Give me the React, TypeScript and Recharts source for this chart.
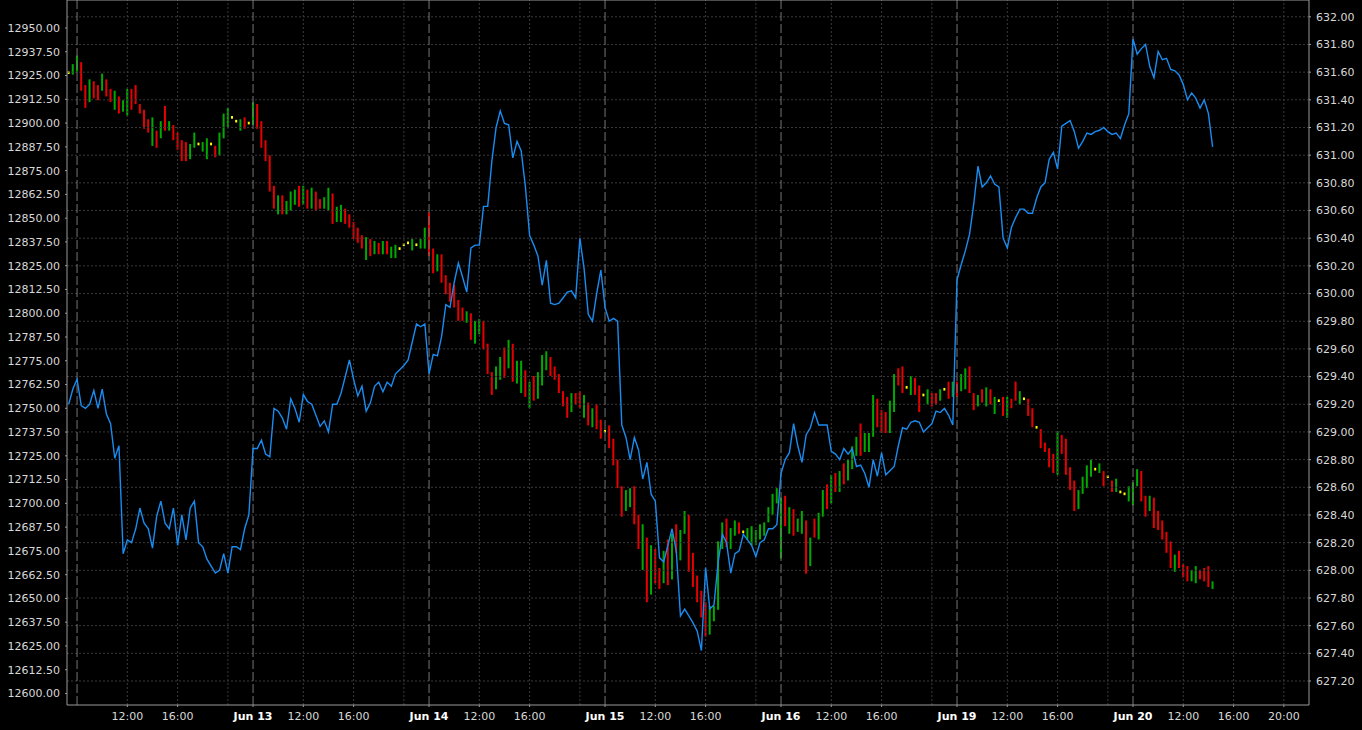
import { ComposedChart, Bar, Line, XAxis, YAxis, ReferenceLine, Cell } from "recharts";

// trading sessions shown on the time axis, 08:00 - 22:00 each
const days = ["Jun 12", "Jun 13", "Jun 14", "Jun 15", "Jun 16", "Jun 19", "Jun 20"];
// first 20-minute slot of each session, counted from 08:00
const firstSlot = [-2, 0, 0, 0, 0, 0, 0];
const SESSION_HOURS = 14;

type Candle = [number, number, number, number]; // open, high, low, close

const jun12Bars: Candle[] = [
  [12926.5, 12927.2, 12925.8, 12926.5], [12927, 12931, 12925.5, 12929], [12928, 12935.5, 12927, 12932],
  [12931, 12932, 12917, 12918], [12917, 12920, 12908, 12912], [12913, 12923, 12911, 12921],
  [12921, 12922, 12913, 12915], [12916, 12920, 12912, 12913], [12917, 12926, 12917, 12925],
  [12923, 12923, 12914, 12915], [12915, 12918, 12911, 12912], [12909, 12917, 12907, 12915],
  [12913, 12914, 12905, 12906], [12906, 12912, 12906, 12911], [12906, 12918, 12904, 12916],
  [12916, 12918, 12907, 12909], [12913, 12920, 12910, 12911], [12909, 12910, 12905, 12906],
  [12906, 12907, 12897, 12900], [12901, 12902, 12895, 12896], [12891, 12903, 12888, 12899],
  [12895, 12896, 12887, 12889], [12893, 12901, 12892, 12900], [12906, 12909, 12896, 12898],
  [12897, 12901, 12896, 12899], [12899, 12899, 12891, 12894], [12893, 12895, 12886, 12889],
  [12890, 12891, 12880, 12883], [12889, 12890, 12880, 12882], [12882, 12889, 12881, 12888],
  [12888, 12895, 12887, 12893], [12889, 12889.7, 12888.3, 12889], [12887, 12890, 12885, 12889],
  [12882, 12892, 12881, 12891], [12889, 12889.7, 12888.3, 12889], [12887, 12888, 12882, 12883],
  [12884, 12895, 12883, 12893], [12893, 12905, 12892, 12903], [12901, 12908, 12898, 12905],
  [12903, 12903.7, 12902.3, 12903], [12901, 12901.7, 12900.3, 12901], [12899, 12902, 12896, 12901],
  [12901, 12903, 12897, 12899], [12900, 12900.7, 12899.3, 12900],
];

const jun13Bars: Candle[] = [
  [12900, 12911, 12899, 12909], [12909, 12910, 12897, 12900], [12899, 12901, 12887, 12889],
  [12889, 12891, 12880, 12883], [12882, 12883, 12864, 12866], [12866, 12867, 12855, 12857],
  [12853, 12862, 12852, 12860], [12860, 12862, 12852, 12854], [12853, 12859, 12852, 12857],
  [12856, 12864, 12854, 12862], [12859, 12865, 12857, 12863], [12863, 12867, 12856, 12858],
  [12858, 12867, 12857, 12864], [12864, 12865, 12855, 12857], [12856, 12866, 12855, 12864],
  [12863, 12864, 12854, 12857], [12858, 12860, 12855, 12856], [12856, 12861, 12855, 12860],
  [12858, 12866, 12854, 12864], [12862, 12863, 12847, 12849], [12850, 12856, 12848, 12853],
  [12849, 12857, 12848, 12855], [12853, 12855, 12847, 12849], [12850, 12852, 12845, 12846],
  [12847, 12848, 12839, 12841], [12842, 12845, 12837, 12839], [12838, 12841, 12834, 12836],
  [12831, 12840, 12828, 12838], [12837, 12839, 12830, 12833], [12833, 12838, 12831, 12836],
  [12836, 12837, 12831, 12833], [12832, 12838, 12831, 12836], [12837, 12838, 12831, 12832],
  [12830, 12835, 12829, 12834], [12830, 12836, 12829, 12835], [12834, 12834.7, 12833.3, 12834],
  [12836, 12836.7, 12835.3, 12836], [12837, 12837.7, 12836.3, 12837], [12834, 12839, 12833, 12837],
  [12836, 12836.7, 12835.3, 12836], [12835, 12839, 12834, 12838], [12835, 12845, 12834, 12843],
];

const jun14Bars: Candle[] = [
  [12850, 12853, 12830, 12832], [12832, 12834, 12821, 12823], [12824, 12831, 12822, 12830],
  [12829, 12831, 12816, 12822], [12818, 12820, 12810, 12812], [12813, 12816, 12806, 12808],
  [12810, 12815, 12803, 12805], [12806, 12807, 12796, 12798], [12800, 12803, 12796, 12798],
  [12797, 12801, 12795, 12800], [12799, 12800, 12786, 12790], [12788, 12796, 12784, 12793],
  [12790, 12797, 12789, 12795], [12795, 12796, 12781, 12783], [12783, 12784, 12768, 12771],
  [12768, 12769, 12757, 12760], [12762, 12772, 12760, 12770], [12767, 12777, 12765, 12775],
  [12778, 12782, 12766, 12770], [12772, 12786, 12771, 12780], [12783, 12784, 12764, 12767],
  [12766, 12775, 12763, 12772], [12762, 12775, 12758, 12772], [12768, 12770, 12756, 12760],
  [12753, 12764, 12750, 12762], [12762, 12767, 12754, 12757], [12757, 12769, 12755, 12767],
  [12765, 12778, 12762, 12773], [12772, 12780, 12770, 12775], [12776, 12777, 12767, 12770],
  [12769, 12772, 12765, 12767], [12766, 12768, 12758, 12759], [12757, 12759, 12751, 12753],
  [12755, 12756, 12745, 12746], [12749, 12758, 12748, 12756], [12756, 12758, 12752, 12753],
  [12757, 12759, 12750, 12752], [12746, 12757, 12745, 12755], [12752, 12753, 12741, 12743],
  [12741, 12750, 12740, 12748], [12748, 12752, 12739, 12742], [12743, 12744, 12734, 12735],
];

const jun15Bars: Candle[] = [
  [12738, 12738.7, 12737.3, 12738], [12739, 12741, 12729, 12730], [12732, 12734, 12720, 12722],
  [12722, 12723, 12708, 12710], [12708, 12709, 12693, 12697], [12698, 12707, 12696, 12705],
  [12700, 12708, 12698, 12707], [12708, 12709, 12689, 12692], [12692, 12694, 12676, 12679],
  [12668, 12689, 12665, 12686], [12680, 12682, 12648, 12652], [12655, 12678, 12652, 12675],
  [12674, 12676, 12658, 12662], [12662, 12666, 12655, 12658], [12660, 12675, 12658, 12672],
  [12675, 12681, 12657, 12660], [12662, 12684, 12660, 12681], [12683, 12689, 12674, 12676],
  [12672, 12686, 12670, 12685], [12686, 12696, 12684, 12693], [12693, 12694, 12664, 12667],
  [12672, 12674, 12656, 12658], [12660, 12662, 12648, 12650], [12650, 12654, 12640, 12645],
  [12645, 12648, 12630, 12633], [12633, 12646, 12631, 12643], [12640, 12646, 12638, 12644],
  [12646, 12680, 12644, 12676], [12678, 12690, 12676, 12684], [12687, 12692, 12677, 12680],
  [12679, 12687, 12676, 12685], [12684, 12691, 12683, 12688], [12689, 12690, 12684, 12686],
  [12685, 12685.7, 12684.3, 12685], [12683, 12687, 12681, 12686], [12680, 12688, 12678, 12686],
  [12681, 12686, 12678, 12683], [12683, 12689, 12681, 12687], [12685, 12690, 12683, 12688],
  [12691, 12698, 12690, 12696], [12696, 12705, 12694, 12702], [12702, 12708, 12700, 12705],
];

const jun16Bars: Candle[] = [
  [12673, 12703, 12671, 12697], [12702, 12704, 12688, 12690], [12690, 12698, 12684, 12695],
  [12695, 12697, 12683, 12686], [12686, 12692, 12685, 12689], [12686, 12696, 12684, 12694],
  [12690, 12691, 12663, 12667], [12668, 12682, 12667, 12680], [12690, 12692, 12682, 12683],
  [12683, 12695, 12681, 12692], [12694, 12707, 12693, 12705], [12706, 12710, 12697, 12700],
  [12702, 12715, 12700, 12712], [12712, 12716, 12706, 12708], [12708, 12717, 12706, 12714],
  [12716, 12721, 12710, 12712], [12714, 12723, 12712, 12720], [12720, 12730, 12718, 12727],
  [12727, 12735, 12725, 12732], [12738, 12742, 12725, 12728], [12729, 12737, 12727, 12733],
  [12729, 12737, 12727, 12735], [12738, 12757, 12735, 12753], [12752, 12755, 12740, 12743],
  [12744, 12749, 12737, 12740], [12745, 12748, 12737, 12739], [12739, 12754, 12737, 12750],
  [12750, 12768, 12748, 12765], [12768, 12771, 12762, 12765], [12768, 12772, 12758, 12760],
  [12761, 12761.7, 12760.3, 12761], [12759, 12767, 12757, 12764], [12765, 12766, 12757, 12760],
  [12760, 12762, 12748, 12753], [12757, 12757.7, 12756.3, 12757], [12755, 12760, 12752, 12757],
  [12757, 12758, 12751, 12753], [12756, 12758, 12752, 12754], [12755, 12760, 12754, 12758],
  [12760, 12760.7, 12759.3, 12760], [12762, 12764, 12755, 12757], [12758, 12764, 12756, 12761],
];

const jun19Bars: Candle[] = [
  [12762, 12764, 12756, 12758], [12760, 12768, 12759, 12765], [12762, 12771, 12760, 12770],
  [12770, 12772, 12758, 12760], [12754, 12758, 12749, 12752], [12752, 12757, 12751, 12755],
  [12758, 12760, 12753, 12755], [12753, 12761, 12751, 12758], [12758, 12760, 12752, 12754],
  [12751, 12756, 12747, 12754], [12754, 12754.7, 12753.3, 12754], [12754, 12756, 12746, 12750],
  [12748, 12756, 12745, 12753], [12753, 12755, 12750, 12751], [12762, 12764, 12754, 12756],
  [12754, 12759, 12752, 12758], [12755, 12755.7, 12754.3, 12755], [12754, 12755, 12746, 12750],
  [12748, 12750, 12740, 12743], [12740, 12740.7, 12739.3, 12740], [12738, 12739, 12729, 12731],
  [12731, 12732, 12727, 12729], [12728, 12729, 12719, 12722], [12724, 12726, 12716, 12718],
  [12716, 12738, 12715, 12733], [12732, 12736, 12726, 12729], [12732, 12734, 12715, 12718],
  [12718, 12719, 12707, 12709], [12710, 12712, 12696, 12699], [12700, 12707, 12697, 12705],
  [12707, 12714, 12705, 12712], [12710, 12720, 12708, 12718], [12716, 12723, 12714, 12720],
  [12718, 12718.7, 12717.3, 12718], [12718, 12721, 12716, 12720], [12716, 12717, 12709, 12712],
  [12714, 12714.7, 12713.3, 12714], [12710, 12712, 12706, 12709], [12708, 12713, 12706, 12711],
  [12706, 12706.7, 12705.3, 12706], [12705, 12705.7, 12704.3, 12705], [12703, 12709, 12701, 12706],
];

const jun20Bars: Candle[] = [
  [12700, 12711, 12699, 12709], [12710, 12718, 12709, 12715], [12716, 12717, 12701, 12704],
  [12703, 12704, 12693, 12696], [12697, 12704, 12696, 12702], [12701, 12703, 12687, 12690],
  [12692, 12696, 12686, 12688], [12690, 12691, 12681, 12683], [12684, 12685, 12674, 12677],
  [12678, 12680, 12666, 12670], [12668, 12673, 12664, 12671], [12672, 12675, 12666, 12668],
  [12666, 12668, 12661, 12664], [12665, 12667, 12659, 12660], [12661, 12665, 12659, 12663],
  [12659, 12667, 12658, 12664], [12663, 12665, 12660, 12662], [12664, 12666, 12659, 12661],
  [12665, 12667, 12656, 12658], [12656, 12659, 12655, 12658],
];

// second instrument, right axis, same 20-minute slots
const jun12Line = [
  629.2, 629.31, 629.38, 629.19, 629.17, 629.2, 629.3, 629.17, 629.31, 629.13, 629.06, 628.81, 628.9,
  628.12, 628.22, 628.2, 628.3, 628.45, 628.34, 628.3, 628.16, 628.39, 628.5, 628.34, 628.3, 628.45,
  628.18, 628.4, 628.22, 628.45, 628.5, 628.2, 628.17, 628.08, 628.03, 627.98, 628.0, 628.12, 627.98,
  628.17, 628.17, 628.15, 628.3, 628.4,
];
const jun13Line = [
  628.88, 628.88, 628.94, 628.84, 628.82, 629.17, 629.15, 629.1, 629.02, 629.24, 629.17, 629.07, 629.27,
  629.22, 629.2, 629.12, 629.04, 629.08, 629.0, 629.2, 629.2, 629.28, 629.4, 629.52, 629.38, 629.26,
  629.33, 629.15, 629.21, 629.33, 629.36, 629.29, 629.36, 629.33, 629.42, 629.45, 629.48, 629.52,
  629.65, 629.78, 629.76, 629.78,
];
const jun14Line = [
  629.42, 629.56, 629.55, 629.69, 629.92, 629.9, 630.08, 630.22, 630.12, 630.01, 630.33, 630.35, 630.35,
  630.63, 630.63, 630.96, 631.2, 631.32, 631.23, 631.22, 630.98, 631.1, 631.03, 630.77, 630.42, 630.35,
  630.27, 630.06, 630.24, 629.93, 629.92, 629.93, 629.97, 630.01, 630.02, 629.97, 630.4, 630.18,
  629.85, 629.8, 630.0, 630.17,
];
const jun15Line = [
  629.9, 629.8, 629.82, 629.8, 629.05, 628.96, 628.8, 628.96, 628.87, 628.66, 628.78, 628.55, 628.5,
  628.09, 628.06, 628.18, 628.3, 628.14, 627.67, 627.72, 627.67, 627.62, 627.56, 627.42, 628.02,
  627.72, 627.75, 628.06, 628.26, 628.2, 627.98, 628.12, 628.14, 628.26, 628.22, 628.18, 628.1, 628.2,
  628.22, 628.3, 628.3, 628.33,
];
const jun16Line = [
  628.7, 628.8, 628.85, 629.06, 628.9, 628.78, 628.98, 629.03, 629.14, 629.05, 629.05, 629.05, 628.86,
  628.84, 628.8, 628.88, 628.84, 628.88, 628.75, 628.76, 628.7, 628.6, 628.8, 628.68, 628.85, 628.69,
  628.72, 628.75, 628.9, 629.03, 629.02, 629.07, 629.08, 629.07, 629.0, 629.03, 629.06, 629.15,
  629.14, 629.17, 629.12, 629.05,
];
const jun19Line = [
  630.1, 630.21, 630.31, 630.43, 630.65, 630.92, 630.77, 630.8, 630.85, 630.79, 630.77, 630.4, 630.33,
  630.48, 630.55, 630.61, 630.61, 630.58, 630.58, 630.69, 630.77, 630.8, 630.97, 631.02, 630.9,
  631.21, 631.23, 631.25, 631.17, 631.05, 631.1, 631.16, 631.15, 631.17, 631.18, 631.2, 631.17,
  631.15, 631.16, 631.12, 631.22, 631.3,
];
const jun20Line = [
  631.84, 631.73, 631.77, 631.8, 631.64, 631.56, 631.75, 631.69, 631.7, 631.62, 631.61, 631.58, 631.51,
  631.4, 631.45, 631.41, 631.34, 631.4, 631.3, 631.06,
];

const barsByDay = [jun12Bars, jun13Bars, jun14Bars, jun15Bars, jun16Bars, jun19Bars, jun20Bars];
const lineByDay = [jun12Line, jun13Line, jun14Line, jun15Line, jun16Line, jun19Line, jun20Line];

const leftTicks = [
  12600, 12612.5, 12625, 12637.5, 12650, 12662.5, 12675, 12687.5, 12700, 12712.5, 12725, 12737.5,
  12750, 12762.5, 12775, 12787.5, 12800, 12812.5, 12825, 12837.5, 12850, 12862.5, 12875, 12887.5,
  12900, 12912.5, 12925, 12937.5, 12950,
];
const rightTicks = [
  627.2, 627.4, 627.6, 627.8, 628.0, 628.2, 628.4, 628.6, 628.8, 629.0, 629.2, 629.4, 629.6, 629.8,
  630.0, 630.2, 630.4, 630.6, 630.8, 631.0, 631.2, 631.4, 631.6, 631.8, 632.0,
];
const leftDomain: [number, number] = [12593.95, 12964.73];
const rightDomain: [number, number] = [627.0266, 632.1214];
const hourMarks = [4, 8, 12]; // 12:00, 16:00, 20:00 inside a session

const rows = barsByDay.flatMap((bars, d) =>
  bars.map(([o, h, l, c], i) => ({
    t: d * SESSION_HOURS + (firstSlot[d] + i) / 3,
    range: [l, h],
    o,
    c,
    v: lineByDay[d][i],
  }))
);

const dayLines = days.map((_, d) => d * SESSION_HOURS);
const hourLines = days.flatMap((_, d) => hourMarks.map((h) => d * SESSION_HOURS + h));
const xTicks = [
  ...dayLines.slice(1),
  ...hourLines.filter((t) => t % SESSION_HOURS !== 12 || t > (days.length - 1) * SESSION_HOURS),
].sort((a, b) => a - b);

const FONT = "'DejaVu Sans', Verdana, sans-serif";

const candleColor = (o: number, c: number) => (c > o ? "#00aa00" : c < o ? "#e80000" : "#ffff00");

const XTick = (props: any) => {
  const { x, y, payload } = props;
  const v = payload.value as number;
  const d = Math.floor(v / SESSION_HOURS + 1e-9);
  const off = Math.round(v - d * SESSION_HOURS);
  const isDay = off === 0;
  const label = isDay ? days[d] : `${8 + off}:00`;
  return (
    <text
      x={x}
      y={y}
      dy="0.71em"
      textAnchor="middle"
      fill={isDay ? "#ffffff" : "#d8d8d8"}
      fontWeight={isDay ? "bold" : "normal"}
      fontSize={11}
      fontFamily={FONT}
    >
      {label}
    </text>
  );
};

export default function App() {
  return (
    <div style={{ position: "absolute", left: 0, top: 0, width: 1362, height: 730, background: "#000" }}>
      <ComposedChart width={1362} height={730} data={rows} margin={{ top: 0, right: 0, bottom: 0, left: 0 }}>
        <XAxis
          dataKey="t"
          type="number"
          domain={[-0.8, 98]}
          allowDataOverflow
          ticks={xTicks}
          interval={0}
          height={25}
          tickSize={2}
          tickMargin={5}
          tick={<XTick />}
          axisLine={{ stroke: "#9a9a9a" }}
          tickLine={{ stroke: "#9a9a9a" }}
        />
        <YAxis
          yAxisId="left"
          orientation="left"
          width={67}
          domain={leftDomain}
          allowDataOverflow
          ticks={leftTicks}
          interval={0}
          tickSize={2}
          tickMargin={5}
          tickFormatter={(v: number) => v.toFixed(2)}
          tick={{ fill: "#d8d8d8", fontSize: 11, fontFamily: FONT }}
          axisLine={{ stroke: "#9a9a9a" }}
          tickLine={{ stroke: "#9a9a9a" }}
        />
        <YAxis
          yAxisId="right"
          orientation="right"
          width={53}
          domain={rightDomain}
          allowDataOverflow
          ticks={rightTicks}
          interval={0}
          tickSize={2}
          tickMargin={5}
          tickFormatter={(v: number) => v.toFixed(2)}
          tick={{ fill: "#d8d8d8", fontSize: 11, fontFamily: FONT }}
          axisLine={{ stroke: "#9a9a9a" }}
          tickLine={{ stroke: "#9a9a9a" }}
        />
        {rightTicks.map((v) => (
          <ReferenceLine key={`h${v}`} yAxisId="right" y={v} stroke="#3a3a3a" strokeDasharray="2 2" />
        ))}
        {hourLines.map((t) => (
          <ReferenceLine key={`x${t}`} yAxisId="left" x={t} stroke="#3a3a3a" strokeDasharray="2 2" />
        ))}
        {dayLines.map((t) => (
          <ReferenceLine key={`d${t}`} yAxisId="left" x={t} stroke="#767676" strokeDasharray="9 3" />
        ))}
        <ReferenceLine yAxisId="left" y={leftDomain[1]} stroke="#9a9a9a" />
        <Bar yAxisId="left" dataKey="range" barSize={2} isAnimationActive={false}>
          {rows.map((r, i) => (
            <Cell key={i} fill={candleColor(r.o, r.c)} />
          ))}
        </Bar>
        <Line
          yAxisId="right"
          dataKey="v"
          type="linear"
          stroke="#1a8cf0"
          strokeWidth={1.4}
          dot={false}
          isAnimationActive={false}
        />
      </ComposedChart>
    </div>
  );
}
